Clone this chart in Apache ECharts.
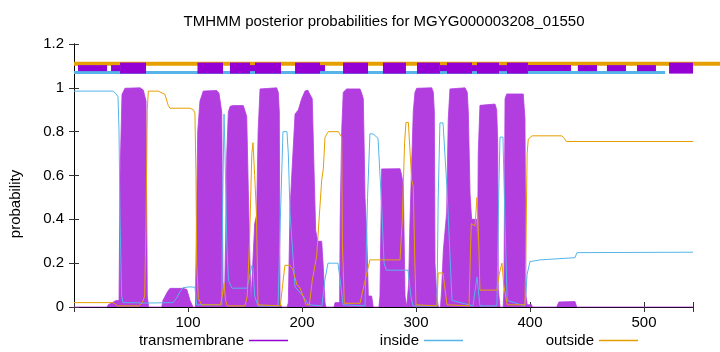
<!DOCTYPE html>
<html><head><meta charset="utf-8">
<script src="https://cdn.jsdelivr.net/npm/echarts@6/dist/echarts.min.js"></script>
<style>html,body{margin:0;padding:0;background:#fff}#c{width:720px;height:352px}</style>
</head><body><div id="c"></div>
<script>
// ---- data (residue, probability) ----
const tmProb = [
[0,0],[29,0],[30,0.01],[37,0.03],[39.5,0.03],[40.4,0.6],[42.1,0.97],[44.7,0.998],[58,1.0],[60.8,0.99],[63.2,0.94],[63.8,0.43],[64.3,0.05],[65.5,0],
[77,0],[78,0.03],[82,0.07],[84.2,0.085],[95.6,0.085],[99,0.08],[101.8,0.03],[104.4,0],
[106.5,0],[107,0.2],[108.5,0.8],[110.5,0.94],[113.4,0.985],[125.2,0.988],[127.2,0.975],[129.6,0.89],[130.7,0.1],[132,0.03],[133,0.3],[134,0.7],[135.4,0.89],[137,0.916],[139.7,0.919],[148.5,0.919],[150,0.91],[151.5,0.87],[152.9,0.536],[154.4,0.2],[155.3,0.03],[157,0.03],[158.5,0.38],[160.2,0.42],[161.5,0.8],[163.2,0.995],[164.6,1.0],[177.8,1.0],[179.2,0.98],[180.1,0.89],[180.7,0.02],[182.2,0],
[187,0],[188,0.02],[189.5,0.44],[191,0.6],[193.9,0.88],[196.8,0.9],[199.7,0.95],[202.6,0.985],[205,0.99],[207,0.97],[209,0.95],[210.8,0.58],[212,0.35],[213.8,0.3],[217.3,0.3],[218.7,0.18],[220.2,0.02],[221,0],
[228,0],[229,0.02],[233,0.02],[233.5,0.4],[234.8,0.8],[236.2,0.98],[239.2,0.995],[250.9,0.995],[252.4,0.975],[253.8,0.95],[255.3,0.5],[256.8,0.33],[258.2,0.05],[261.1,0.05],[262.5,0],
[267.5,0],[268.4,0.05],[269.9,0.63],[271.3,0.631],[286,0.631],[287.5,0.6],[288.9,0.55],[290.4,0.05],[291.8,0],
[292.5,0],[293.5,0.1],[294.7,0.39],[297.6,0.89],[299.1,0.98],[300.6,0.998],[302,1.0],[313.8,1.0],[315.2,0.98],[316.1,0.89],[316.7,0.2],[318.2,0.05],[319.6,0],
[321.5,0],[322.5,0.08],[324,0.26],[326.9,0.43],[328.3,0.858],[329.8,0.995],[331.3,1.0],[343,1.0],[345,0.98],[345.9,0.89],[347.4,0.52],[348.8,0.4],[353.2,0.4],[354,0.25],[354.6,0.7],[356.1,0.92],[357.6,0.926],[369.3,0.926],[370.8,0.9],[371.7,0.75],[372.2,0.08],[373.7,0],
[376.5,0],[377.2,0.08],[378.1,0.95],[379.6,0.972],[394.1,0.972],[395.6,0.86],[396.5,0.05],[397.6,0.01],[401.5,0.01],[402,0],
[423.4,0],[425.4,0.023],[439.5,0.025],[441,0],[543,0]
];
const insideProb = [
[0,0.985],[34,0.985],[36.5,0.975],[38.6,0.96],[39.5,0.8],[40.4,0.4],[41.8,0.05],[43,0.02],[64,0.018],[86.8,0.02],[90,0.04],[93,0.07],[95.6,0.088],[101.8,0.092],[106.1,0.09],[107.6,0.01],[129.6,0.01],[130.5,0.5],[131.6,0.88],[132.5,0.7],[134,0.3],[135.5,0.12],[138.6,0.086],[151.8,0.086],[154.5,0.15],[156.1,0.19],[157,0.18],[158.5,0.05],[161.4,0.005],[179,0.005],[181,0.4],[183.3,0.8],[186.8,0.8],[188,0.7],[189.5,0.43],[193.9,0.092],[200.9,0.05],[206,0.01],[217.5,0.005],[220,0.12],[222.8,0.2],[231.6,0.2],[234,0.1],[236,0.01],[255.3,0.005],[257.5,0.5],[259.6,0.79],[262.3,0.79],[266.7,0.77],[270,0.45],[272,0.2],[274,0.168],[293,0.168],[295.5,0.05],[297.4,0.005],[318.4,0.005],[319.5,0.5],[321,0.84],[323.7,0.84],[327.2,0.54],[331.6,0.03],[350,0.005],[353.5,0.137],[356.1,0.005],[371,0.005],[372.5,0.5],[373.7,0.775],[376.3,0.775],[378,0.4],[380,0.03],[395.6,0.005],[397.5,0.15],[400,0.207],[408.8,0.215],[439.5,0.225],[441.2,0.248],[543,0.25]
];
const outsideProb = [
[0,0.02],[34,0.02],[36,0.015],[38,0.005],[57,0.005],[60,0.02],[62,0.05],[63.2,0.4],[64.3,0.9],[65.2,0.985],[74,0.985],[79.8,0.97],[82.7,0.919],[84.2,0.907],[101.8,0.907],[104.7,0.9],[106.1,0.885],[107,0.6],[107.6,0.2],[109,0.04],[112,0.01],[128.5,0.01],[130,0.05],[131.6,0.11],[133,0.03],[134.5,0.005],[150,0.005],[152,0.05],[154,0.3],[156,0.7],[157,0.75],[158.5,0.6],[160,0.43],[161.4,0.01],[181,0.005],[183,0.1],[185,0.19],[189.5,0.19],[192,0.17],[195.6,0.1],[198,0.09],[201,0.05],[203.5,0.01],[206.5,0.01],[209,0.12],[212.9,0.235],[217.3,0.58],[218.7,0.63],[220.2,0.775],[223.1,0.8],[231.9,0.8],[234.8,0.775],[235.4,0.3],[237.1,0.017],[250.9,0.017],[255.3,0.12],[259.6,0.215],[286,0.215],[288,0.4],[290,0.75],[291.2,0.842],[293.3,0.842],[296.2,0.58],[297.6,0.55],[299,0.2],[300,0.01],[318.4,0.005],[319.5,0.155],[323.7,0.155],[327.2,0.01],[346.5,0.005],[347.5,0.2],[348.5,0.38],[351.8,0.37],[353.5,0.5],[355,0.3],[356.1,0.077],[371,0.077],[373,0.15],[375.4,0.2],[377,0.1],[380,0.01],[395.6,0.01],[396.5,0.3],[397.5,0.7],[398.5,0.766],[401.8,0.781],[428,0.781],[430,0.77],[432,0.755],[543,0.755]
];
// top topology track: [start, end] residue ranges
const tmBoxes = [[40.4,63.2],[108.3,130.7],[136.8,154.4],[158.8,181.6],[193.9,215.8],[236,257.9],[271,291.2],[300.9,321],[327.2,349.1],[353.5,372.8],[379.8,398.2],[522,543]];
const tmThinBoxes = [[3.5,29],[32.5,40.4],[154.4,158.8],[215.8,220.2],[321,327.2],[349.1,353.5],[372.8,379.8],[398.2,436],[442,458.8],[467.5,484.2],[493.9,510.5]];
const outsideTrack = [[0,567]];
const insideTrack = [[0,518.5]];
const trackLevels = {outside:1.11, tm:1.09, inside:1.07};
const seqMax = 543;
const titleText = 'TMHMM posterior probabilities for MGYG000003208_01550';
const yName = 'probability';
const legendNames = ['transmembrane','inside','outside'];

const FONT = '"Liberation Sans", Arial, sans-serif';
const C_TM = '#9400d3', C_TMFILL = '#b23ee0', C_IN = '#56b4e9', C_OUT = '#e69f00';

function trackSeries(data, level, h, color, z){
  return {
    type:'custom', data: data, z: z, clip:false, silent:true,
    encode:{x:[0,1]},
    renderItem: function(params, api){
      const s = api.coord([api.value(0), level]);
      const e = api.coord([api.value(1), level]);
      return {type:'rect', shape:{x:s[0], y:s[1]-h/2, width:e[0]-s[0], height:h}, style:{fill:color}};
    }
  };
}

const chart = echarts.init(document.getElementById('c'), null, {renderer:'canvas'});
const axisCommon = {
  type:'value', min:0, max:seqMax, interval:100,
  axisLine:{show:true, lineStyle:{color:'#000', width:1}},
  axisTick:{show:true, inside:true, length:5, lineStyle:{color:'#333'}},
  splitLine:{show:false}
};
const yCommon = {
  type:'value', min:0, max:1.2, interval:0.2,
  axisLine:{show:true, lineStyle:{color:'#000', width:1}},
  axisTick:{show:true, inside:true, length:5, lineStyle:{color:'#333'}},
  splitLine:{show:false}
};
chart.setOption({
  animation:false,
  backgroundColor:'#fff',
  grid:{left:74, right:27, top:44, bottom:45, containLabel:false},
  xAxis:[
    Object.assign({}, axisCommon, {position:'bottom',
      axisLabel:{margin:8, color:'#000', fontFamily:FONT, fontSize:15,
        formatter: v => (v>0 && v%100===0) ? String(v) : ''}}),
    Object.assign({}, axisCommon, {position:'top', axisLabel:{show:false}})
  ],
  yAxis:[
    Object.assign({}, yCommon, {position:'left',
      axisLabel:{margin:10, color:'#000', fontFamily:FONT, fontSize:15,
        formatter: v => String(+(+v).toFixed(1))}}),
    Object.assign({}, yCommon, {position:'right', axisLabel:{show:false}})
  ],
  legend:[0,1,2].map(i => ({
    data:[{name:legendNames[i], itemStyle:{color:[C_TM,C_IN,C_OUT][i]}}],
    right:[432,257,82][i], top:333, padding:0, align:'right',
    icon:'rect', itemWidth:39, itemHeight:1.5, itemGap:9,
    textStyle:{color:'#000', fontFamily:FONT, fontSize:15},
    selectedMode:false
  })),
  graphic:[
    {type:'text', x:384, y:22, style:{text:titleText, font:'15px '+FONT, fill:'#000', textAlign:'center', textVerticalAlign:'middle'}},
    {type:'text', x:16, y:204, rotation:Math.PI/2, style:{text:yName, font:'15px '+FONT, fill:'#000', textAlign:'center', textVerticalAlign:'middle'}}
  ],
  series:[
    {name:legendNames[0], type:'line', data:tmProb, symbol:'none', z:2,
      itemStyle:{color:C_TM}, lineStyle:{color:C_TMFILL, width:0.8},
      areaStyle:{color:C_TMFILL, opacity:1}},
    {name:legendNames[1], type:'line', data:insideProb, symbol:'none', z:3,
      itemStyle:{color:C_IN}, lineStyle:{color:C_IN, width:1}},
    {name:legendNames[2], type:'line', data:outsideProb, symbol:'none', z:4,
      itemStyle:{color:C_OUT}, lineStyle:{color:C_OUT, width:1}},
    trackSeries(outsideTrack, trackLevels.outside, 4, C_OUT, 5),
    trackSeries(insideTrack, trackLevels.inside, 3, C_IN, 5),
    trackSeries(tmThinBoxes, trackLevels.tm, 6, C_TM, 6),
    trackSeries(tmBoxes, trackLevels.tm, 11, C_TM, 7)
  ]
});
</script></body></html>
